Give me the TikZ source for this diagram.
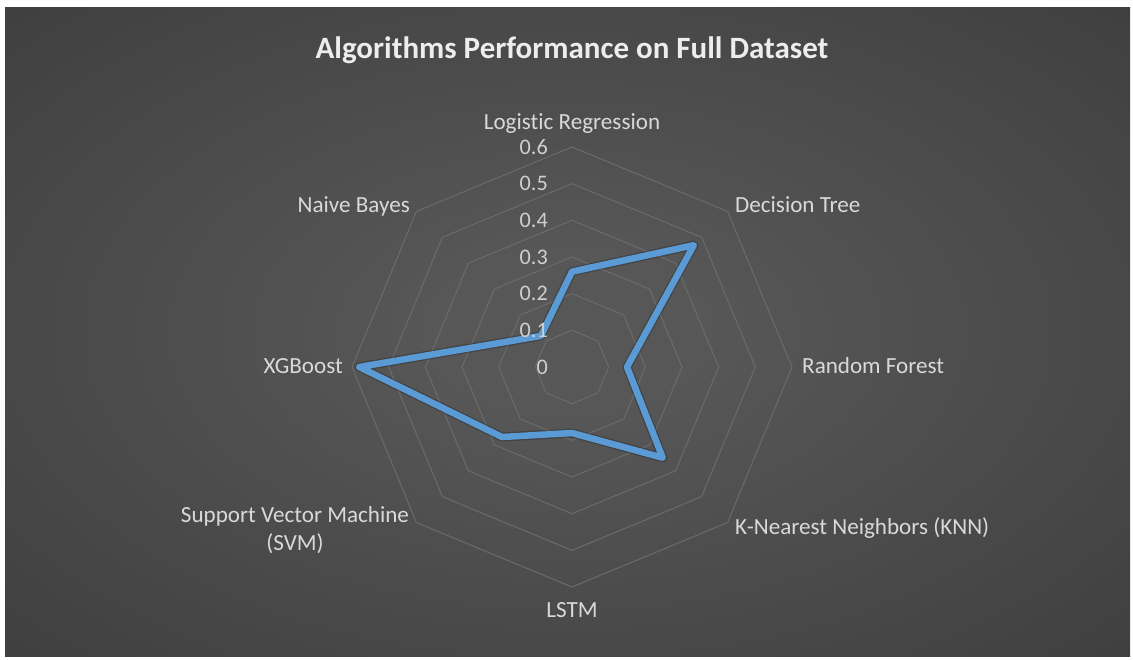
\documentclass[tikz,border=0pt]{standalone}
\usepackage{fontspec}
\setmainfont{Carlito}[Ligatures=NoCommon]
\usetikzlibrary{calc}

\definecolor{bgin}{HTML}{575757}
\definecolor{bgout}{HTML}{232323}
\definecolor{gridc}{HTML}{6B6B6B}
\definecolor{labelc}{HTML}{D9D9D9}
\definecolor{tickc}{HTML}{CFCFCF}
\definecolor{titlec}{HTML}{EDEDED}
\definecolor{seriesc}{HTML}{5B9BD5}

% soft radial glow for the chart area
\pgfdeclareradialshading{bgglow}{\pgfpoint{0bp}{0bp}}{%
  color(0bp)=(bgin); color(6bp)=(bgin); color(70.72bp)=(bgout)}

\tikzset{
  axislabel/.style={text=labelc, inner sep=0pt, font=\fontsize{23.1}{28}\selectfont},
  ticklabel/.style={text=tickc, inner sep=0pt, anchor=east, font=\fontsize{22.2}{26}\selectfont},
  ring/.style={draw=gridc, line width=1pt},
  series/.style={draw=seriesc, line width=6.5pt, line join=round, line cap=round},
  seriesshadow/.style={draw=black, opacity=0.22, line width=9pt, line join=round},
}

\begin{document}
\begin{tikzpicture}[x=1pt, y=-1pt]
  % page and chart area
  \fill[white] (0,0) rectangle (1133,659);
  \useasboundingbox (0,0) rectangle (1133,659);
  \shade[shading=bgglow] (5,7) rectangle (1130,656);

  % title
  \node[text=titlec, inner sep=0pt, anchor=base,
        font=\bfseries\fontsize{31}{37}\selectfont] (title) at (572,58)
        {Algorithms Performance on Full Dataset};

  % centre of the radar and step per 0.1
  \def\cx{572}
  \def\cy{367}
  \def\stp{36.667}

  % octagonal grid rings (0.1 ... 0.6)
  \foreach \i in {1,...,6}{
    \pgfmathsetmacro{\rr}{\stp*\i}
    \draw[ring]
      ({\cx+\rr*cos(-90)},{\cy+\rr*sin(-90)}) --
      ({\cx+\rr*cos(-45)},{\cy+\rr*sin(-45)}) --
      ({\cx+\rr*cos(0)},{\cy+\rr*sin(0)}) --
      ({\cx+\rr*cos(45)},{\cy+\rr*sin(45)}) --
      ({\cx+\rr*cos(90)},{\cy+\rr*sin(90)}) --
      ({\cx+\rr*cos(135)},{\cy+\rr*sin(135)}) --
      ({\cx+\rr*cos(180)},{\cy+\rr*sin(180)}) --
      ({\cx+\rr*cos(225)},{\cy+\rr*sin(225)}) -- cycle;
  }

  % data points: value of each algorithm on its spoke
  \foreach \k/\v in {0/0.26,1/0.47,2/0.15,3/0.35,4/0.18,5/0.27,6/0.58,7/0.12}{
    \coordinate (d\k) at ({\cx+\v*10*\stp*cos(45*\k-90)},{\cy+\v*10*\stp*sin(45*\k-90)});
  }

  % series with its soft shadow
  \begin{scope}[shift={(1.5,2.5)}]
    \draw[seriesshadow] (d0) -- (d1) -- (d2) -- (d3) -- (d4) -- (d5) -- (d6) -- (d7) -- cycle;
  \end{scope}
  \draw[series] (d0) -- (d1) -- (d2) -- (d3) -- (d4) -- (d5) -- (d6) -- (d7) -- cycle;

  % scale labels, printed over the series
  \foreach \i/\t in {0/0,1/0.1,2/0.2,3/0.3,4/0.4,5/0.5,6/0.6}{
    \node[ticklabel] (tick\i) at (548,{\cy-\stp*\i}) {\t};
  }

  % category labels
  \node[axislabel, anchor=base] (lr) at (572,129) {Logistic Regression};
  \node[axislabel, anchor=base west] (dt) at (735,212) {Decision Tree};
  \node[axislabel, anchor=base west] (rf) at (802,373) {Random Forest};
  \node[axislabel, anchor=base west] (knn) at (735,534) {K-Nearest Neighbors (KNN)};
  \node[axislabel, anchor=base] (lstm) at (572,617) {LSTM};
  \node[axislabel, anchor=north, align=center] (svm) at (295,506)
        {Support Vector Machine\\(SVM)};
  \node[axislabel, anchor=base east] (xgb) at (343,373) {XGBoost};
  \node[axislabel, anchor=base east] (nb) at (410,212) {Naive Bayes};
\end{tikzpicture}
\end{document}
